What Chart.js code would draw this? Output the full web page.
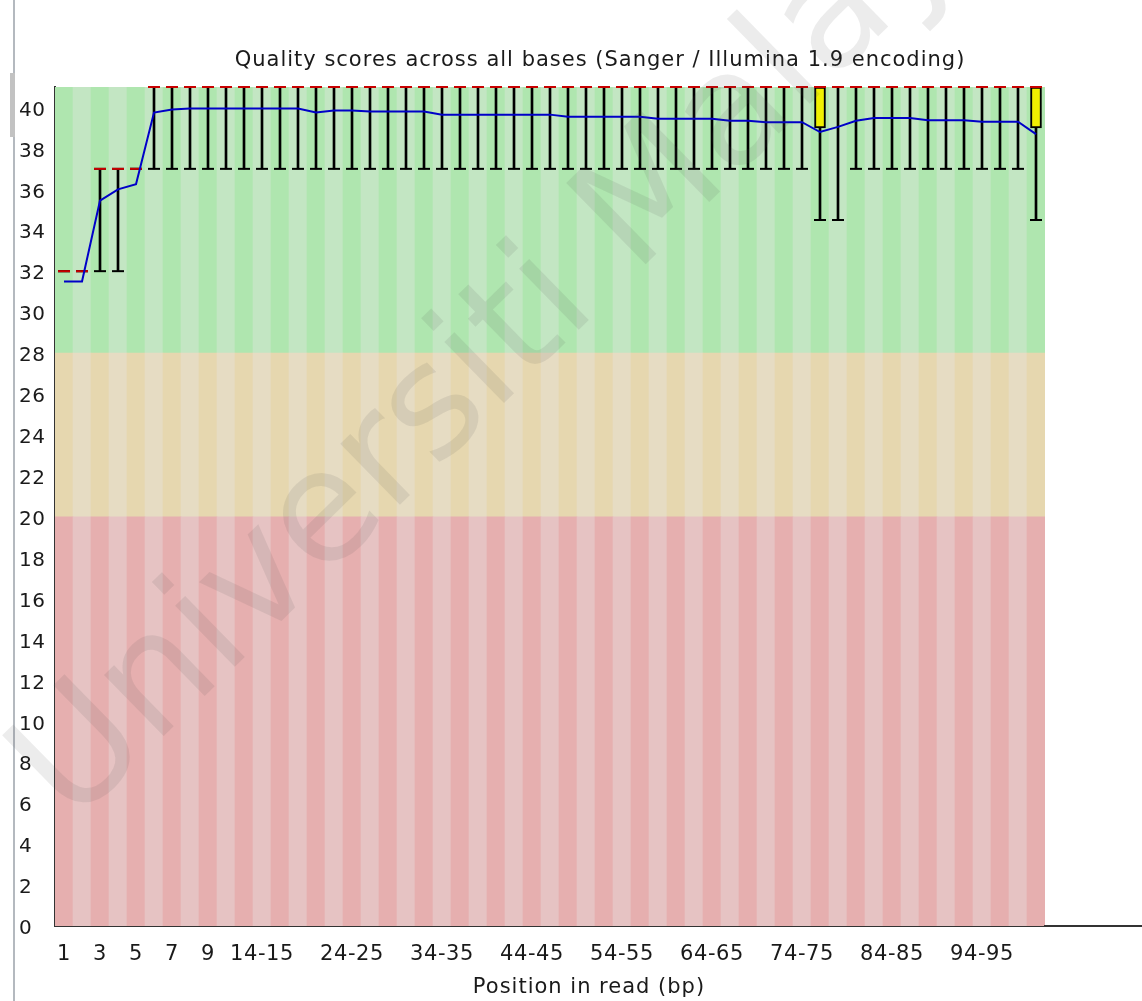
<!DOCTYPE html>
<html>
<head>
<meta charset="utf-8">
<title>Per base sequence quality</title>
<script src="https://cdn.jsdelivr.net/npm/chart.js@4.4.1/dist/chart.umd.min.js"></script>
<style>
    html, body { margin: 0; padding: 0; background: #fff; }
    #wrap { position: relative; width: 1142px; height: 1001px; }
</style>
</head>
<body>
<div id="wrap"><canvas id="quality-chart"></canvas></div>
<script>
// base positions (single bases up to 9, then pairs)
const positions = [
    '1', '2', '3', '4', '5', '6', '7', '8', '9',
    '10-11', '12-13', '14-15', '16-17', '18-19', '20-21', '22-23', '24-25', '26-27', '28-29',
    '30-31', '32-33', '34-35', '36-37', '38-39', '40-41', '42-43', '44-45', '46-47', '48-49',
    '50-51', '52-53', '54-55', '56-57', '58-59', '60-61', '62-63', '64-65', '66-67', '68-69',
    '70-71', '72-73', '74-75', '76-77', '78-79', '80-81', '82-83', '84-85', '86-87', '88-89',
    '90-91', '92-93', '94-95', '96-97', '98-99', '100-101'
];

const tickLabels = ['1', '3', '5', '7', '9', '14-15', '24-25', '34-35', '44-45', '54-55', '64-65', '74-75', '84-85', '94-95'];

const meanQuality = [
    31.5, 31.5, 35.45, 36.0, 36.25, 39.75, 39.9, 39.95, 39.95, 39.95,
    39.95, 39.95, 39.95, 39.95, 39.75, 39.85, 39.85, 39.8, 39.8, 39.8,
    39.8, 39.65, 39.65, 39.65, 39.65, 39.65, 39.65, 39.65, 39.55, 39.55,
    39.55, 39.55, 39.55, 39.45, 39.45, 39.45, 39.45, 39.35, 39.35, 39.28,
    39.28, 39.28, 38.8, 39.05, 39.35, 39.48, 39.48, 39.48, 39.38, 39.38,
    39.38, 39.3, 39.3, 39.3, 38.7
];

const medianQuality = [
    32, 32, 37, 37, 37, 41, 41, 41, 41, 41,
    41, 41, 41, 41, 41, 41, 41, 41, 41, 41,
    41, 41, 41, 41, 41, 41, 41, 41, 41, 41,
    41, 41, 41, 41, 41, 41, 41, 41, 41, 41,
    41, 41, 41, 41, 41, 41, 41, 41, 41, 41,
    41, 41, 41, 41, 41
];

const lowerQuartile = [
    32, 32, 37, 37, 37, 41, 41, 41, 41, 41,
    41, 41, 41, 41, 41, 41, 41, 41, 41, 41,
    41, 41, 41, 41, 41, 41, 41, 41, 41, 41,
    41, 41, 41, 41, 41, 41, 41, 41, 41, 41,
    41, 41, 39, 41, 41, 41, 41, 41, 41, 41,
    41, 41, 41, 41, 39
];

const upperQuartile = [
    32, 32, 37, 37, 37, 41, 41, 41, 41, 41,
    41, 41, 41, 41, 41, 41, 41, 41, 41, 41,
    41, 41, 41, 41, 41, 41, 41, 41, 41, 41,
    41, 41, 41, 41, 41, 41, 41, 41, 41, 41,
    41, 41, 41, 41, 41, 41, 41, 41, 41, 41,
    41, 41, 41, 41, 41
];

const percentile10 = [
    32, 32, 32, 32, 37, 37, 37, 37, 37, 37,
    37, 37, 37, 37, 37, 37, 37, 37, 37, 37,
    37, 37, 37, 37, 37, 37, 37, 37, 37, 37,
    37, 37, 37, 37, 37, 37, 37, 37, 37, 37,
    37, 37, 34.5, 34.5, 37, 37, 37, 37, 37, 37,
    37, 37, 37, 37, 34.5
];

const percentile90 = [
    32, 32, 37, 37, 37, 41, 41, 41, 41, 41,
    41, 41, 41, 41, 41, 41, 41, 41, 41, 41,
    41, 41, 41, 41, 41, 41, 41, 41, 41, 41,
    41, 41, 41, 41, 41, 41, 41, 41, 41, 41,
    41, 41, 41, 41, 41, 41, 41, 41, 41, 41,
    41, 41, 41, 41, 41
];

// quality zones: bad / warning / good
const zoneLimits = [0, 20, 28, 41];

const TITLE = 'Quality scores across all bases (Sanger / Illumina 1.9 encoding)';
const X_TITLE = 'Position in read (bp)';
const WATERMARK = 'Universiti Malaya';

const FONT = '"DejaVu Sans", Verdana, sans-serif';

function stripes(dark, light) {
    return positions.map((p, i) => i % 2 === 0 ? dark : light);
}

function zoneDataset(lo, hi, dark, light) {
    return {
        type: 'bar',
        data: positions.map(() => [lo, hi]),
        backgroundColor: stripes(dark, light),
        grouped: false,
        barPercentage: 1,
        categoryPercentage: 1,
        order: 10
    };
}

function capDataset(values, color, order) {
    return {
        type: 'line',
        data: values,
        showLine: false,
        pointStyle: 'line',
        pointRadius: 6,
        pointHoverRadius: 6,
        pointBorderWidth: 2,
        pointBorderColor: color,
        borderColor: color,
        clip: false,
        order: order
    };
}

// extra drawing: page edge, extended x axis, titles, watermark
const decorPlugin = {
    id: 'decor',
    beforeDraw(chart) {
        const ctx = chart.ctx;
        ctx.save();
        ctx.fillStyle = '#b4b9bf';
        ctx.fillRect(13, 0, 2, chart.height);
        ctx.fillStyle = '#c2c2c2';
        ctx.fillRect(10, 73, 5, 64);
        ctx.restore();
        // slightly looser tick text
        ctx.letterSpacing = '0.6px';
    },
    afterDraw(chart) {
        const ctx = chart.ctx;
        const area = chart.chartArea;
        ctx.save();

        ctx.strokeStyle = '#333';
        ctx.lineWidth = 2;
        ctx.beginPath();
        ctx.moveTo(area.right - 1, area.bottom);
        ctx.lineTo(chart.width, area.bottom);
        ctx.stroke();

        ctx.fillStyle = '#1a1a1a';
        ctx.font = '21px ' + FONT;
        ctx.letterSpacing = '1px';
        ctx.textAlign = 'center';
        ctx.textBaseline = 'middle';
        ctx.fillText(TITLE, 600, 61);
        ctx.fillText(X_TITLE, 589, 988);

        ctx.letterSpacing = '0px';
        ctx.translate(72, 826);
        ctx.rotate(-44.4 * Math.PI / 180);
        ctx.font = '156px ' + FONT;
        ctx.fillStyle = 'rgba(80, 80, 80, 0.11)';
        ctx.textAlign = 'left';
        ctx.textBaseline = 'alphabetic';
        ctx.fillText(WATERMARK, 0, 0);

        ctx.restore();
    }
};

Chart.defaults.font.family = FONT;
Chart.defaults.font.size = 20;
Chart.defaults.color = '#1a1a1a';

const ctx = document.getElementById('quality-chart').getContext('2d');

const qualityChart = new Chart(ctx, {
    type: 'bar',
    data: {
        labels: positions,
        datasets: [
            // mean quality
            {
                type: 'line',
                data: meanQuality,
                borderColor: 'rgb(0, 0, 200)',
                borderWidth: 2,
                pointRadius: 0,
                tension: 0,
                order: 1
            },
            // median
            capDataset(medianQuality, 'rgb(200, 0, 0)', 2),
            // inter-quartile box
            {
                type: 'bar',
                data: positions.map((p, i) => lowerQuartile[i] < upperQuartile[i] ? [lowerQuartile[i], upperQuartile[i]] : null),
                backgroundColor: 'rgb(240, 240, 0)',
                borderColor: '#000',
                borderWidth: 2,
                borderSkipped: false,
                barThickness: 11,
                grouped: false,
                clip: false,
                order: 3
            },
            // 10% / 90% whisker caps
            capDataset(percentile10, '#000', 4),
            capDataset(percentile90, '#000', 4),
            // whisker lines
            {
                type: 'bar',
                data: positions.map((p, i) => [percentile10[i], percentile90[i]]),
                backgroundColor: '#000',
                barThickness: 2,
                grouped: false,
                order: 5
            },
            zoneDataset(zoneLimits[0], zoneLimits[1], 'rgb(230, 175, 175)', 'rgb(230, 195, 195)'),
            zoneDataset(zoneLimits[1], zoneLimits[2], 'rgb(230, 215, 175)', 'rgb(230, 220, 195)'),
            zoneDataset(zoneLimits[2], zoneLimits[3], 'rgb(175, 230, 175)', 'rgb(195, 230, 195)')
        ]
    },
    options: {
        responsive: true,
        maintainAspectRatio: false,
        animation: false,
        events: [],
        layout: {
            padding: { left: 19, top: 87, right: 97, bottom: 0 }
        },
        plugins: {
            legend: { display: false },
            tooltip: { enabled: false },
            title: { display: false }
        },
        scales: {
            x: {
                offset: true,
                z: 1,
                grid: { display: false },
                border: { color: '#333', width: 2 },
                ticks: {
                    autoSkip: false,
                    maxRotation: 0,
                    padding: 8,
                    font: { size: 21 },
                    callback: function (value) {
                        const label = this.getLabelForValue(value);
                        return tickLabels.includes(label) ? label : '';
                    }
                },
                afterFit: function (scale) {
                    scale.height = 75;
                }
            },
            y: {
                min: 0,
                max: 41,
                z: 1,
                grid: { display: false },
                border: { color: '#333', width: 2 },
                ticks: {
                    stepSize: 2,
                    includeBounds: false,
                    crossAlign: 'far',
                    labelOffset: 3
                },
                afterFit: function (scale) {
                    scale.width = 36;
                }
            }
        }
    },
    plugins: [decorPlugin]
});
</script>
</body>
</html>
